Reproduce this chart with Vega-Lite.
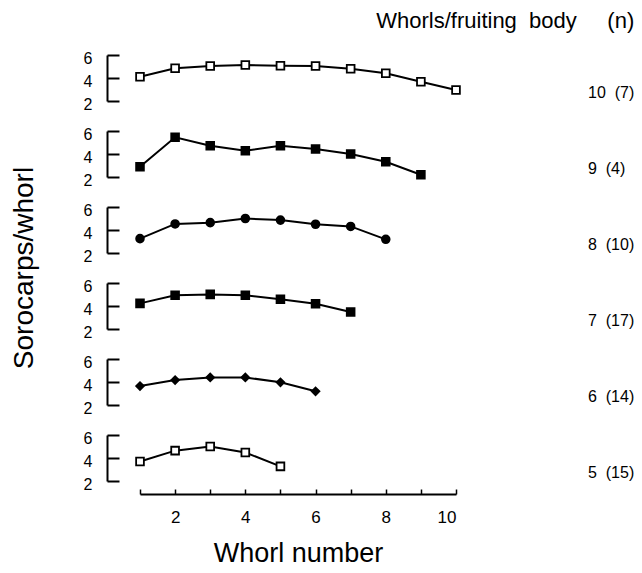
{
  "$schema": "https://vega.github.io/schema/vega-lite/v6.json",
  "padding": {"left": 10, "top": 10, "right": 6, "bottom": 3},
  "background": "white",
  "config": {
    "font": "Liberation Sans",
    "view": {"stroke": null},
    "facet": {"spacing": 22}
  },
  "title": {
    "text": "Whorls/fruiting\u00a0\u00a0body\u00a0\u00a0\u00a0\u00a0\u00a0(n)",
    "anchor": "end",
    "fontSize": 22,
    "fontWeight": "normal",
    "color": "black",
    "offset": 17
  },
  "data": {
    "values": [
      {"whorls": 10, "label": "10 (7)", "x": 1, "y": 4.11},
      {"whorls": 10, "label": "10 (7)", "x": 2, "y": 4.84},
      {"whorls": 10, "label": "10 (7)", "x": 3, "y": 5.04},
      {"whorls": 10, "label": "10 (7)", "x": 4, "y": 5.13},
      {"whorls": 10, "label": "10 (7)", "x": 5, "y": 5.07},
      {"whorls": 10, "label": "10 (7)", "x": 6, "y": 5.04},
      {"whorls": 10, "label": "10 (7)", "x": 7, "y": 4.81},
      {"whorls": 10, "label": "10 (7)", "x": 8, "y": 4.41},
      {"whorls": 10, "label": "10 (7)", "x": 9, "y": 3.68},
      {"whorls": 10, "label": "10 (7)", "x": 10, "y": 2.96},
      {"whorls": 9, "label": "9 (4)", "x": 1, "y": 2.9},
      {"whorls": 9, "label": "9 (4)", "x": 2, "y": 5.45},
      {"whorls": 9, "label": "9 (4)", "x": 3, "y": 4.72},
      {"whorls": 9, "label": "9 (4)", "x": 4, "y": 4.29},
      {"whorls": 9, "label": "9 (4)", "x": 5, "y": 4.72},
      {"whorls": 9, "label": "9 (4)", "x": 6, "y": 4.43},
      {"whorls": 9, "label": "9 (4)", "x": 7, "y": 4.0},
      {"whorls": 9, "label": "9 (4)", "x": 8, "y": 3.33},
      {"whorls": 9, "label": "9 (4)", "x": 9, "y": 2.2},
      {"whorls": 8, "label": "8 (10)", "x": 1, "y": 3.25},
      {"whorls": 8, "label": "8 (10)", "x": 2, "y": 4.53},
      {"whorls": 8, "label": "8 (10)", "x": 3, "y": 4.64},
      {"whorls": 8, "label": "8 (10)", "x": 4, "y": 5.0},
      {"whorls": 8, "label": "8 (10)", "x": 5, "y": 4.86},
      {"whorls": 8, "label": "8 (10)", "x": 6, "y": 4.5},
      {"whorls": 8, "label": "8 (10)", "x": 7, "y": 4.31},
      {"whorls": 8, "label": "8 (10)", "x": 8, "y": 3.19},
      {"whorls": 7, "label": "7 (17)", "x": 1, "y": 4.23},
      {"whorls": 7, "label": "7 (17)", "x": 2, "y": 4.93},
      {"whorls": 7, "label": "7 (17)", "x": 3, "y": 5.01},
      {"whorls": 7, "label": "7 (17)", "x": 4, "y": 4.93},
      {"whorls": 7, "label": "7 (17)", "x": 5, "y": 4.58},
      {"whorls": 7, "label": "7 (17)", "x": 6, "y": 4.2},
      {"whorls": 7, "label": "7 (17)", "x": 7, "y": 3.48},
      {"whorls": 6, "label": "6 (14)", "x": 1, "y": 3.65},
      {"whorls": 6, "label": "6 (14)", "x": 2, "y": 4.17},
      {"whorls": 6, "label": "6 (14)", "x": 3, "y": 4.4},
      {"whorls": 6, "label": "6 (14)", "x": 4, "y": 4.4},
      {"whorls": 6, "label": "6 (14)", "x": 5, "y": 3.97},
      {"whorls": 6, "label": "6 (14)", "x": 6, "y": 3.19},
      {"whorls": 5, "label": "5 (15)", "x": 1, "y": 3.7},
      {"whorls": 5, "label": "5 (15)", "x": 2, "y": 4.64},
      {"whorls": 5, "label": "5 (15)", "x": 3, "y": 5.0},
      {"whorls": 5, "label": "5 (15)", "x": 4, "y": 4.48},
      {"whorls": 5, "label": "5 (15)", "x": 5, "y": 3.27}
    ]
  },
  "facet": {
    "row": {
      "field": "label",
      "type": "nominal",
      "sort": ["10 (7)", "9 (4)", "8 (10)", "7 (17)", "6 (14)", "5 (15)"],
      "header": {
        "title": "Sorocarps/whorl",
        "titleOrient": "left",
        "titleFontSize": 28,
        "titleFontWeight": "normal",
        "titleColor": "black",
        "titlePadding": 34,
        "labelOrient": "right",
        "labelAngle": 0,
        "labelAnchor": "end",
        "labelBaseline": "bottom",
        "labelAlign": "right",
        "labelPadding": 124,
        "labelFontSize": 16,
        "labelColor": "black",
        "labelExpr": "replace(datum.label, ' ', '\u00a0\u00a0')"
      }
    }
  },
  "spec": {
    "width": 316,
    "height": 46,
    "encoding": {
      "x": {
        "field": "x",
        "type": "quantitative",
        "scale": {"domain": [1, 10], "nice": false, "zero": false},
        "axis": {
          "title": "Whorl number",
          "titleFontSize": 27,
          "titleFontWeight": "normal",
          "titleColor": "black",
          "titlePadding": 15,
          "values": [1, 2, 3, 4, 5, 6, 7, 8, 9, 10],
          "labelExpr": "datum.value % 2 == 0 ? datum.label : ''",
          "labelFontSize": 17,
          "labelColor": "black",
          "labelPadding": 20,
          "tickSize": -5,
          "tickColor": "black",
          "tickWidth": 1.5,
          "domainColor": "black",
          "domainWidth": 2,
          "offset": 13,
          "grid": false
        }
      },
      "y": {
        "field": "y",
        "type": "quantitative",
        "scale": {"domain": [2, 6], "nice": false, "zero": false},
        "axis": {
          "title": null,
          "values": [2, 4, 6],
          "labelFontSize": 16,
          "labelColor": "black",
          "labelPadding": 27,
          "labelOffset": 3,
          "tickSize": -12,
          "tickColor": "black",
          "tickWidth": 2,
          "domainColor": "black",
          "domainWidth": 2,
          "offset": 25,
          "grid": false
        }
      }
    },
    "layer": [
      {
        "mark": {"type": "line", "color": "black", "strokeWidth": 2}
      },
      {
        "mark": {"type": "point", "filled": false, "stroke": "black", "strokeWidth": 1.8, "opacity": 1},
        "encoding": {
          "shape": {
            "field": "whorls",
            "type": "nominal",
            "scale": {"domain": [10, 9, 8, 7, 6, 5], "range": ["square", "square", "circle", "square", "diamond", "square"]},
            "legend": null
          },
          "fill": {
            "field": "whorls",
            "type": "nominal",
            "scale": {"domain": [10, 9, 8, 7, 6, 5], "range": ["white", "black", "black", "black", "black", "white"]},
            "legend": null
          },
          "size": {"value": 60}
        }
      }
    ]
  }
}
